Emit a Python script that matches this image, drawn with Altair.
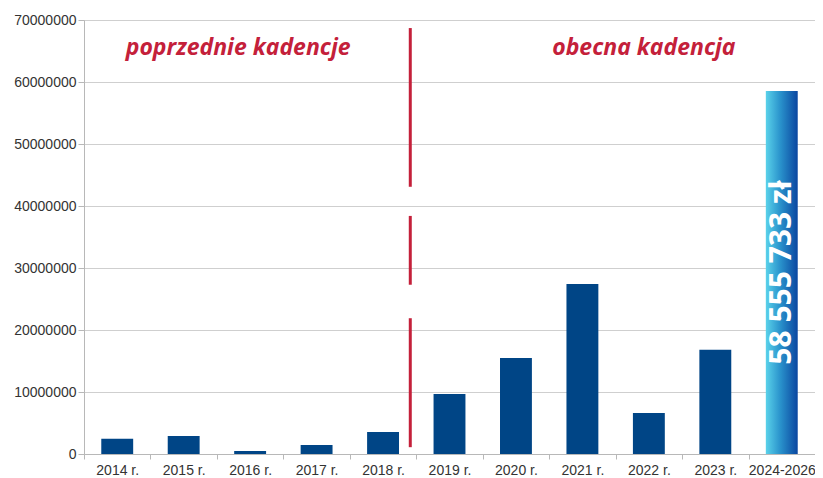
import altair as alt
import pandas as pd

categories = ["2014 r.", "2015 r.", "2016 r.", "2017 r.", "2018 r.", "2019 r.",
              "2020 r.", "2021 r.", "2022 r.", "2023 r.", "2024-2026"]
values = [2470000, 2900000, 480000, 1450000, 3550000, 9680000,
          15500000, 27400000, 6600000, 16800000, 58555733]
y_ticks = [0, 10000000, 20000000, 30000000, 40000000, 50000000, 60000000, 70000000]

# divider segments (value units)
div_top = [68700000, 38400000, 21900000]
div_bottom = [43100000, 27300000, 1100000]

notes = ["poprzednie kadencje", "obecna kadencja"]
note_cat = ["2016 r.", "2022 r."]
note_y = [65500000, 65500000]
note_dx = [-12, -5]

last_label = "58 555 733 zł"

df = pd.DataFrame({"cat": categories, "val": values})
df["half"] = df["val"] / 2
df["label"] = ""
df.loc[df.index[-1], "label"] = last_label

RED = "#c4203a"
BLUE = "#004586"

xscale = alt.Scale(domain=categories, paddingInner=0, paddingOuter=0)
yscale = alt.Scale(domain=[0, 70000000], nice=False)

x_enc = alt.X("cat:N", scale=xscale, sort=categories,
              axis=alt.Axis(title=None, labelAngle=0, tickBand="extent",
                            labelFont="Liberation Sans", labelFontSize=14,
                            labelColor="#333333", domainColor="#b8b8b8",
                            tickColor="#b8b8b8", tickSize=5, labelPadding=4,
                            grid=False))
y_enc = alt.Y("val:Q", scale=yscale,
              axis=alt.Axis(title=None, values=y_ticks, format="d",
                            labelFont="Liberation Sans", labelFontSize=14,
                            labelColor="#333333", domainColor="#b8b8b8",
                            tickColor="#b8b8b8", tickSize=6, labelPadding=2,
                            gridColor="#cfcfcf", grid=True))

base = alt.Chart(df)
BW = alt.RelativeBandSize(0.48)

bars = base.transform_filter(alt.datum.cat != "2024-2026").mark_bar(color=BLUE, width=BW).encode(
    x=x_enc, y=y_enc)

grad = alt.Gradient(gradient="linear",
                    stops=[alt.GradientStop(color="#5ad2ea", offset=0),
                           alt.GradientStop(color="#2a93cc", offset=0.45),
                           alt.GradientStop(color="#0a46a0", offset=1)],
                    x1=0, x2=1, y1=0, y2=0)
last_bar = base.transform_filter(alt.datum.cat == "2024-2026").mark_bar(color=grad, width=BW).encode(
    x=alt.X("cat:N", scale=xscale, sort=categories), y=alt.Y("val:Q", scale=yscale))

last_text = base.transform_filter(alt.datum.cat == "2024-2026").mark_text(
    angle=270, color="white", font="Open Sans", fontWeight="bold", fontSize=30,
    align="center", baseline="middle").encode(
    x=alt.X("cat:N", scale=xscale, sort=categories),
    y=alt.Y("half:Q", scale=yscale), text="label:N")

div_df = pd.DataFrame({"cat": ["2019 r."] * 3, "top": div_top, "bottom": div_bottom})
divider = alt.Chart(div_df).mark_rule(color=RED, strokeWidth=3, xOffset=-6).encode(
    x=alt.X("cat:N", scale=xscale, sort=categories, bandPosition=0),
    y=alt.Y("top:Q", scale=yscale), y2="bottom:Q")

notes_df = pd.DataFrame({"cat": note_cat, "y": note_y, "t": notes, "dx": note_dx})
note_layers = []
for i in range(len(notes)):
    note_layers.append(
        alt.Chart(notes_df.iloc[[i]]).mark_text(
            color=RED, font="Open Sans", fontWeight="bold", fontStyle="italic",
            fontSize=23, align="center", baseline="middle", dx=note_dx[i]).encode(
            x=alt.X("cat:N", scale=xscale, sort=categories),
            y=alt.Y("y:Q", scale=yscale), text="t:N"))

chart = alt.layer(bars, last_bar, last_text, divider, *note_layers).properties(
    width=731, height=434,
    padding={"left": 76, "top": 12, "right": 0, "bottom": 24},
    autosize=alt.AutoSizeParams(type="none"),
    background="white",
).configure_view(stroke="#cfcfcf", strokeWidth=1)

chart.save("out.html", embed_options={"renderer": "svg", "actions": False})
